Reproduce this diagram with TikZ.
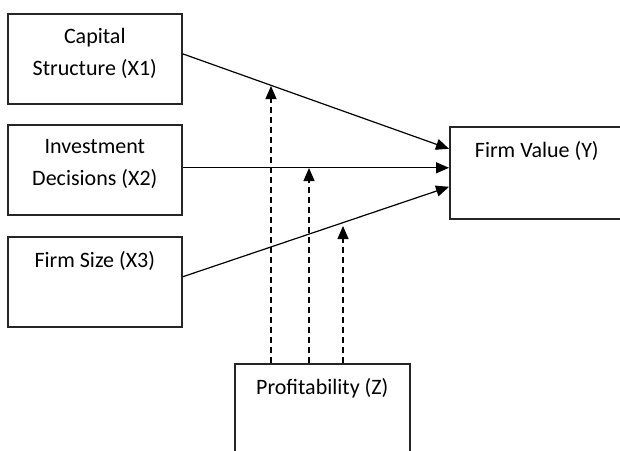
\documentclass[tikz,border=0pt]{standalone}
\usepackage{fontspec}
\setmainfont{Carlito}
\usetikzlibrary{arrows.meta}

\begin{document}
\begin{tikzpicture}[x=0.5pt, y=-0.5pt,
    box/.style={draw=black!85, line width=0.8pt, anchor=north west, inner sep=0pt,
      minimum width=87pt, minimum height=45pt},
    txt/.style={anchor=north, align=center, inner sep=0pt, yshift=-7.5pt,
      font=\fontsize{11}{16}\selectfont},
    link/.style={line width=0.6pt, -{Triangle[length=6.5pt, width=5.5pt]}},
    dashlink/.style={link, dash pattern=on 3pt off 2pt}]
  % page frame (px), the boxes on the right and bottom run off the edge
  \useasboundingbox (0,0) rectangle (620,450);
  \clip (0,0) rectangle (620,450);
  % independent variables
  \node[box, label={[txt]north:{Capital\\Structure (X1)}}] (x1) at (7,13) {};
  \node[box, label={[txt]north:{Investment\\Decisions (X2)}}] (x2) at (7,124) {};
  \node[box, label={[txt]north:{Firm Size (X3)}}] (x3) at (7,236) {};
  % dependent variable
  \node[box, minimum width=87pt, minimum height=46pt,
    label={[txt]north:{Firm Value (Y)}}] (y) at (449,126) {};
  % moderating variable
  \node[box, minimum width=87.5pt, minimum height=55pt,
    label={[txt]north:{Profitability (Z)}}] (z) at (234,363) {};
  % where the dashed arrows stop
  \coordinate (m1) at (271,86);
  \coordinate (m2) at (309,168);
  \coordinate (m3) at (343,226);
  % direct effects
  \draw[link] ([yshift=2.5pt]x1.east) -- ([yshift=12pt]y.west);
  \draw[link] ([yshift=1pt]x2.east) -- ([yshift=1pt]x2.east -| y.west);
  \draw[link] ([yshift=2.5pt]x3.east) -- ([yshift=-7pt]y.west);
  % moderation
  \foreach \m in {m1,m2,m3}
    \draw[dashlink] (z.north -| \m) -- (\m);
\end{tikzpicture}
\end{document}
